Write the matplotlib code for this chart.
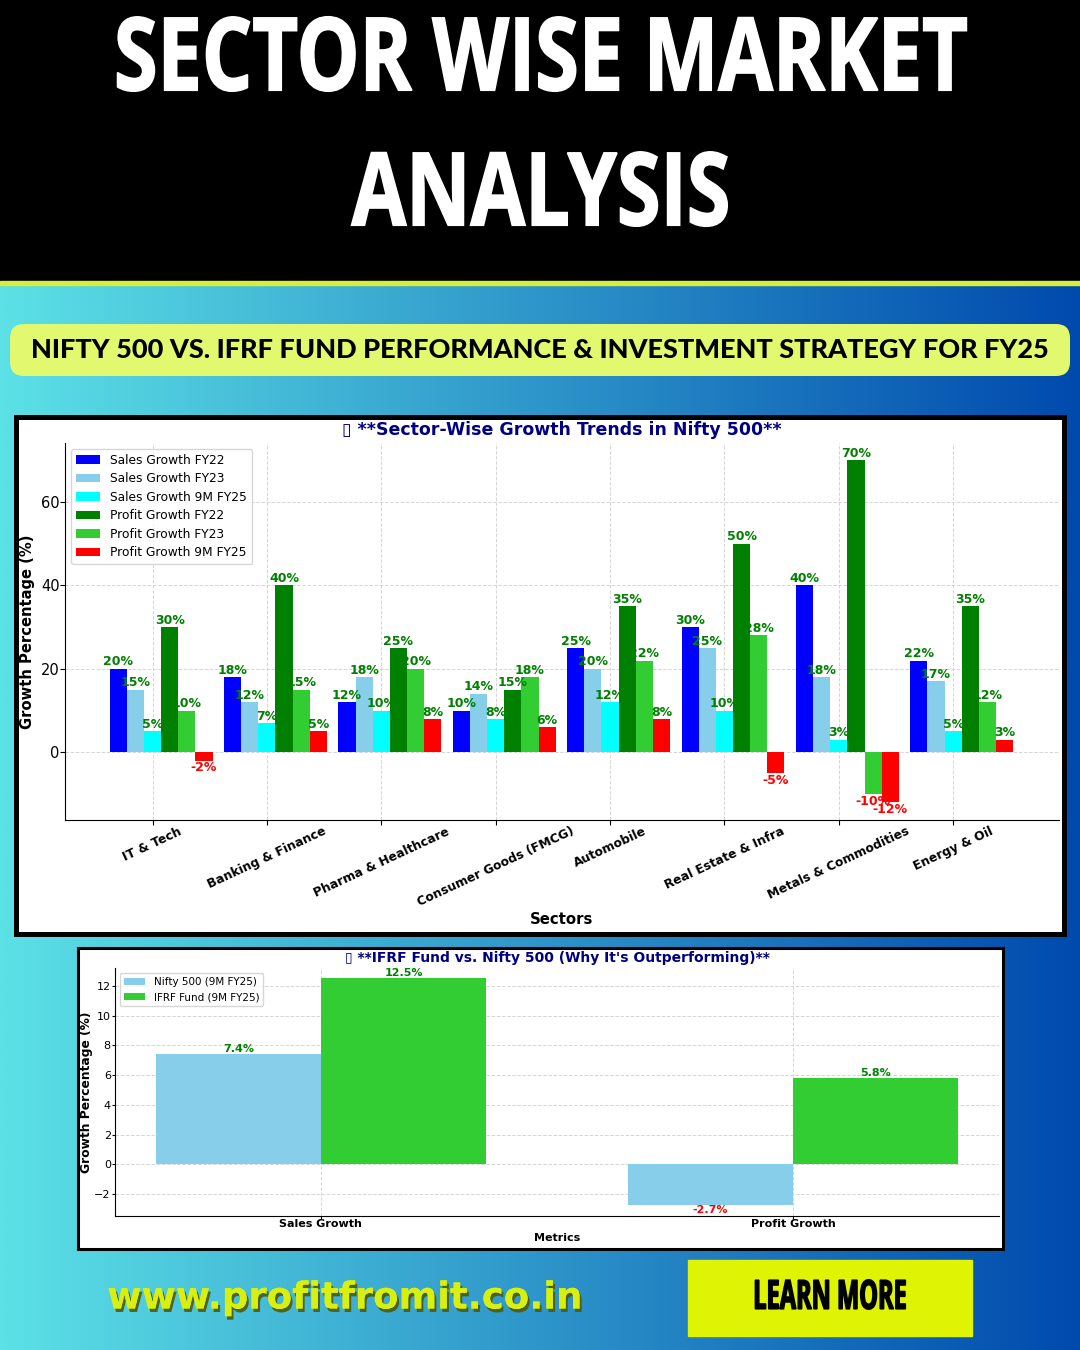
import numpy as np
import matplotlib
matplotlib.use('Agg')
import matplotlib.pyplot as plt
import matplotlib.patheffects as pe
from matplotlib.colors import LinearSegmentedColormap
from matplotlib.patches import Rectangle, FancyBboxPatch
from matplotlib.transforms import Affine2D

# data
sectors = ['IT & Tech', 'Banking & Finance', 'Pharma & Healthcare', 'Consumer Goods (FMCG)',
           'Automobile', 'Real Estate & Infra', 'Metals & Commodities', 'Energy & Oil']
sales_fy22 = [20, 18, 12, 10, 25, 30, 40, 22]
sales_fy23 = [15, 12, 18, 14, 20, 25, 18, 17]
sales_9m = [5, 7, 10, 8, 12, 10, 3, 5]
profit_fy22 = [30, 40, 25, 15, 35, 50, 70, 35]
profit_fy23 = [10, 15, 20, 18, 22, 28, -10, 12]
profit_9m = [-2, 5, 8, 6, 8, -5, -12, 3]

metrics = ['Sales Growth', 'Profit Growth']
nifty_9m = [7.4, -2.7]
ifrf_9m = [12.5, 5.8]

W, H = 1080, 1350
fig = plt.figure(figsize=(W / 100, H / 100), dpi=100)


# no Oswald here, so stretch the glyphs around a pixel position instead
class Stretch(pe.AbstractPathEffect):
    def __init__(self, cx, cy, sx=1.0, sy=1.0, lw=0.0):
        super().__init__()
        self.m = Affine2D().translate(-cx, -(H - cy)).scale(sx, sy).translate(cx, H - cy)
        self.lw = lw

    def draw_path(self, renderer, gc, tpath, affine, rgbFace=None):
        gc0 = renderer.new_gc()
        gc0.copy_properties(gc)
        if self.lw:
            gc0.set_linewidth(self.lw)
            gc0.set_foreground(rgbFace)
            gc0.set_joinstyle('miter')
        renderer.draw_path(gc0, tpath, affine + self.m, rgbFace)
        gc0.restore()


# page background in pixel coordinates
bg = fig.add_axes([0, 0, 1, 1])
cmap = LinearSegmentedColormap.from_list('page', ['#5ce1e6', '#004aad'])
bg.imshow(np.linspace(0, 1, 512).reshape(1, -1), cmap=cmap, aspect='auto',
          extent=(0, W, H, 285), zorder=0)
bg.set_xlim(0, W)
bg.set_ylim(H, 0)
bg.axis('off')
bg.add_patch(Rectangle((0, 0), W, 281, color='black', zorder=1))
bg.add_patch(Rectangle((0, 281), W, 4, color='#d6ee3c', zorder=1))

t1 = bg.text(541, 64, 'SECTOR WISE MARKET', color='white', fontsize=57, fontweight='bold',
             family='Open Sans', fontstretch='condensed', ha='center', va='center', zorder=2)
t1.set_path_effects([Stretch(541, 64, 1.0, 1.28, lw=1.2)])
t2 = bg.text(541, 199, 'ANALYSIS', color='white', fontsize=57, fontweight='bold',
             family='Open Sans', fontstretch='condensed', ha='center', va='center', zorder=2)
t2.set_path_effects([Stretch(541, 199, 1.0, 1.28, lw=1.2)])

bg.add_patch(FancyBboxPatch((10, 324), 1060, 52, boxstyle='round,pad=0,rounding_size=14',
                            linewidth=0, facecolor='#e2f96f', zorder=1))
bg.text(540, 350, 'NIFTY 500 VS. IFRF FUND PERFORMANCE & INVESTMENT STRATEGY FOR FY25',
        color='black', fontsize=19.5, fontweight=900, family='Lato',
        ha='center', va='center', zorder=2)

# white cards with black frame
bg.add_patch(Rectangle((15.5, 416.5), 1048.5, 517, facecolor='white', edgecolor='black', linewidth=3.6, zorder=1))
bg.add_patch(Rectangle((77.5, 947.5), 925, 301, facecolor='white', edgecolor='black', linewidth=2.2, zorder=1))

# footer
site = bg.text(345, 1298, 'www.profitfromit.co.in', color='#d9ef0f', fontsize=26.7, fontweight='bold',
               family='DejaVu Sans', ha='center', va='center', zorder=2)
site.set_path_effects([pe.withSimplePatchShadow(offset=(1.5, -2.5), shadow_rgbFace='#4d5a10', alpha=0.9),
                       pe.Normal()])
bg.add_patch(Rectangle((688, 1260), 284, 76, color='#dff305', zorder=1))
learn = bg.text(830, 1298, 'LEARN MORE', color='black', fontsize=20, fontweight='bold',
                family='Open Sans', fontstretch='condensed', ha='center', va='center', zorder=2)
learn.set_path_effects([Stretch(830, 1298, 0.85, 1.45, lw=1.0)])


def axes_px(left, top, right, bottom):
    return fig.add_axes([left / W, 1 - bottom / H, (right - left) / W, (bottom - top) / H])


def style_axes(ax):
    ax.spines['top'].set_visible(False)
    ax.spines['right'].set_visible(False)
    ax.grid(True, linestyle='--', color='#cccccc', linewidth=0.7, alpha=0.8)
    ax.set_axisbelow(True)


# chart 1
ax1 = axes_px(65, 443, 1059, 820)
x = np.arange(len(sectors))
width = 0.15
series = [('Sales Growth FY22', sales_fy22, 'blue'),
          ('Sales Growth FY23', sales_fy23, 'skyblue'),
          ('Sales Growth 9M FY25', sales_9m, 'cyan'),
          ('Profit Growth FY22', profit_fy22, 'green'),
          ('Profit Growth FY23', profit_fy23, 'limegreen'),
          ('Profit Growth 9M FY25', profit_9m, 'red')]
for i, (name, vals, col) in enumerate(series):
    pos = x + (i - 2) * width
    ax1.bar(pos, vals, width, label=name, color=col, zorder=2)
    for px, v in zip(pos, vals):
        ax1.text(px, v + (0.1 if v >= 0 else -0.1), f'{v}%', ha='center',
                 va='bottom' if v >= 0 else 'top', fontsize=9, fontweight='bold',
                 color='green' if v >= 0 else 'red', zorder=3)
ax1.set_xlim(-0.765, 7.925)
ax1.set_ylim(-16.2, 74.1)
ax1.set_xticks(x)
ax1.set_xticklabels(sectors, rotation=25, ha='center', fontsize=8.8, fontweight='bold')
ax1.set_yticks([0, 20, 40, 60])
ax1.tick_params(axis='y', labelsize=10.5, pad=0.5)
ax1.tick_params(axis='x', pad=0)
ax1.set_xlabel('Sectors', fontsize=10.7, fontweight='bold', labelpad=2)
ax1.set_ylabel('Growth Percentage (%)', fontsize=10.6, fontweight='bold', labelpad=4)
ax1.set_title('\u25af **Sector-Wise Growth Trends in Nifty 500**', fontsize=12.5, fontweight='bold',
              color='navy', pad=6)
style_axes(ax1)
ax1.legend(loc='upper left', fontsize=8.8, labelspacing=0.45)

# chart 2
ax2 = axes_px(115, 968, 999, 1216)
x2 = np.arange(len(metrics))
w2 = 0.35
ax2.bar(x2 - w2 / 2, nifty_9m, w2, label='Nifty 500 (9M FY25)', color='skyblue', zorder=2)
ax2.bar(x2 + w2 / 2, ifrf_9m, w2, label='IFRF Fund (9M FY25)', color='limegreen', zorder=2)
for pos, vals in ((x2 - w2 / 2, nifty_9m), (x2 + w2 / 2, ifrf_9m)):
    for px, v in zip(pos, vals):
        ax2.text(px, v + (0.02 if v >= 0 else -0.05), f'{v}%', ha='center',
                 va='bottom' if v >= 0 else 'top', fontsize=8, fontweight='bold',
                 color='green' if v >= 0 else 'red', zorder=3)
ax2.set_xlim(-0.436, 1.436)
ax2.set_ylim(-3.46, 13.2)
ax2.set_xticks(x2)
ax2.set_xticklabels(metrics, fontsize=8, fontweight='bold')
ax2.set_yticks([-2, 0, 2, 4, 6, 8, 10, 12])
ax2.tick_params(axis='y', labelsize=8, length=2, pad=1)
ax2.tick_params(axis='x', length=2, pad=0)
ax2.set_xlabel('Metrics', fontsize=8, fontweight='bold', labelpad=3)
ax2.set_ylabel('Growth Percentage (%)', fontsize=8.8, fontweight='bold', labelpad=1)
ax2.set_title("\u25af **IFRF Fund vs. Nifty 500 (Why It's Outperforming)**", fontsize=10, fontweight='bold',
              color='navy', pad=4.5)
style_axes(ax2)
ax2.legend(loc='upper left', fontsize=7.5, labelspacing=0.45)

fig.savefig('out.png', dpi=100)
